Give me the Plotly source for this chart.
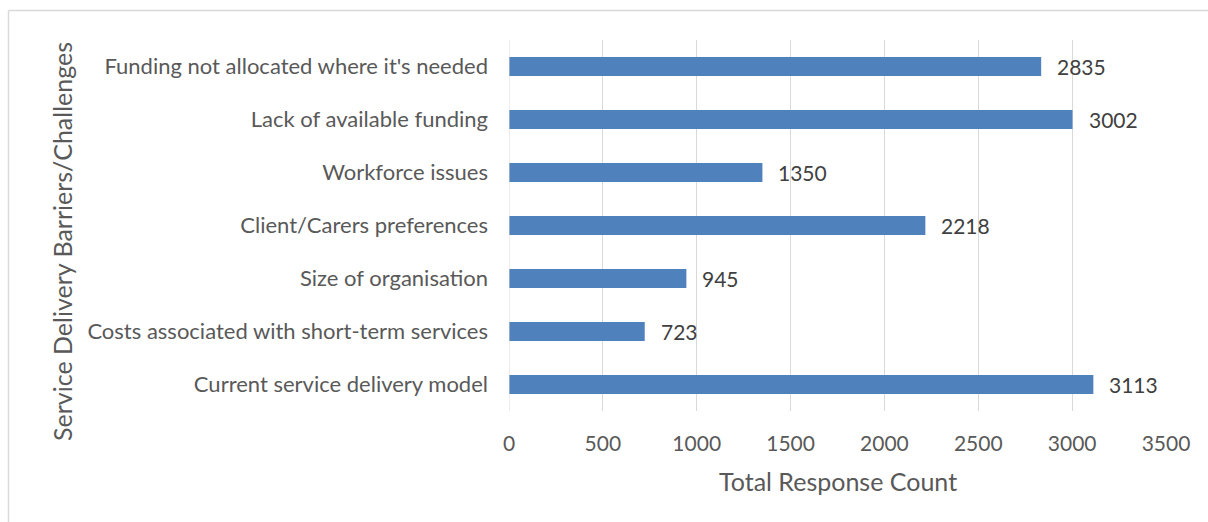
import plotly.graph_objects as go

categories = [
    "Current service delivery model",
    "Costs associated with short-term services",
    "Size of organisation",
    "Client/Carers preferences",
    "Workforce issues",
    "Lack of available funding",
    "Funding not allocated where it's needed",
]
counts = [3113, 723, 945, 2218, 1350, 3002, 2835]
x_ticks = [0, 500, 1000, 1500, 2000, 2500, 3000, 3500]

FONT = "Lato, Carlito, Calibri, sans-serif"
TEXT = "#595959"

W, H = 1208, 522
L, R, T, B = 509, 42, 40, 111
pw, ph = W - L - R, H - T - B


def px_x(p):
    return (p - L) / pw


def px_y(p):
    return (H - B - p) / ph


fig = go.Figure(
    go.Bar(
        y=categories,
        x=counts,
        orientation="h",
        marker=dict(color="#4F81BD", line=dict(width=0)),
        width=0.36,
        hoverinfo="x+y",
    )
)

# value labels placed just past each bar end
value_labels = [
    dict(x=v, y=c, xref="x", yref="y", text=str(v), xanchor="left",
         yanchor="middle", xshift=14, showarrow=False,
         font=dict(family=FONT, size=21, color="#404040"))
    for c, v in zip(categories, counts)
]

fig.update_layout(
    width=W,
    height=H,
    margin=dict(l=L, r=R, t=T, b=B),
    paper_bgcolor="white",
    plot_bgcolor="white",
    showlegend=False,
    font=dict(family=FONT, size=21, color=TEXT),
    xaxis=dict(
        range=[0, 3500],
        tickvals=x_ticks,
        ticktext=[str(v) for v in x_ticks],
        showgrid=True,
        gridcolor="#D9D9D9",
        gridwidth=1,
        zeroline=False,
        showline=False,
        ticks="",
        ticklabelstandoff=18,
        tickfont=dict(family=FONT, size=21, color=TEXT),
    ),
    yaxis=dict(
        categoryorder="array",
        categoryarray=categories,
        showgrid=False,
        zeroline=False,
        showline=False,
        ticks="",
        ticklabelstandoff=20,
        tickfont=dict(family=FONT, size=22, color=TEXT),
    ),
    shapes=[
        # left axis line
        dict(type="line", xref="x", yref="paper", x0=0, x1=0, y0=0, y1=1,
             line=dict(color="#D9D9D9", width=1)),
        # chart frame (left and top edges)
        dict(type="line", xref="paper", yref="paper",
             x0=px_x(8.5), x1=px_x(8.5), y0=px_y(530), y1=px_y(10.5),
             line=dict(color="#D9D9D9", width=1.5)),
        dict(type="line", xref="paper", yref="paper",
             x0=px_x(8.5), x1=px_x(1215), y0=px_y(10.5), y1=px_y(10.5),
             line=dict(color="#D9D9D9", width=1.5)),
    ],
    annotations=value_labels + [
        dict(text="Total Response Count", xref="paper", yref="paper",
             x=0.5, y=px_y(481), xanchor="center", yanchor="middle",
             showarrow=False, font=dict(family=FONT, size=25, color=TEXT)),
        dict(text="Service Delivery Barriers/Challenges", xref="paper", yref="paper",
             x=px_x(62), y=px_y(242), xanchor="center", yanchor="middle",
             textangle=-90, showarrow=False,
             font=dict(family=FONT, size=25, color=TEXT)),
    ],
)

fig.write_html("out.html")
